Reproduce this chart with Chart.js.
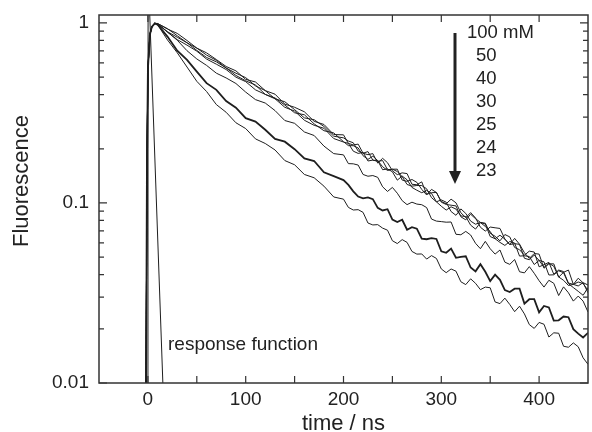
<!DOCTYPE html>
<html lang="en">
<head>
<meta charset="UTF-8">
<title>Fluorescence decay</title>
<script src="https://cdn.jsdelivr.net/npm/chart.js@4.4.1/dist/chart.umd.min.js"></script>
<style>
  html, body { margin: 0; padding: 0; background: #fff; }
</style>
</head>
<body>
<canvas id="decayChart" width="592" height="432"></canvas>
<script>
// time axis (ns), shared by all decay curves
const times = [-4, -2, -1, 0, 2, 4, 7,
  10, 20, 30, 40, 50, 60, 70, 80, 90, 100, 110, 120, 130, 140, 150, 160, 170, 180, 190, 200,
  205, 210, 215, 220, 225, 230, 235, 240, 245, 250, 255, 260, 265, 270, 275, 280, 285, 290, 295, 300,
  305, 310, 315, 320, 325, 330, 335, 340, 345, 350, 355, 360, 365, 370, 375, 380, 385, 390, 395, 400,
  405, 410, 415, 420, 425, 430, 435, 440, 445, 450];

const concLabels = ['100 mM', '50', '40', '30', '25', '24', '23'];

const f100 = [0.004, 0.006, 0.15, 0.55, 0.86, 0.95, 0.995,
  0.993, 0.925, 0.875, 0.799, 0.725, 0.682, 0.626, 0.573, 0.542, 0.486, 0.470, 0.421, 0.402, 0.354,
  0.340, 0.321, 0.284, 0.273, 0.240, 0.239,
  0.2143, 0.210, 0.2123, 0.189, 0.1854, 0.188, 0.1666, 0.177, 0.1674, 0.151, 0.1437, 0.147, 0.1456, 0.127,
  0.1263, 0.131, 0.1118, 0.114, 0.1144, 0.102, 0.0990, 0.105, 0.1002, 0.0882, 0.0830, 0.0884, 0.0826, 0.0733,
  0.0698, 0.0735, 0.0728, 0.0722, 0.0630, 0.0587, 0.0636, 0.0590, 0.0529, 0.0492, 0.0524, 0.0520, 0.0434, 0.0459,
  0.0459, 0.0387, 0.0412, 0.0424, 0.0353, 0.0346, 0.0361, 0.0350];
const f50 = [0.004, 0.006, 0.15, 0.55, 0.86, 0.95, 0.995,
  0.991, 0.930, 0.849, 0.776, 0.725, 0.663, 0.620, 0.562, 0.526, 0.497, 0.447, 0.421, 0.379, 0.365,
  0.330, 0.297, 0.290, 0.266, 0.235, 0.230,
  0.2209, 0.216, 0.1942, 0.189, 0.1929, 0.173, 0.1703, 0.172, 0.1530, 0.154, 0.1541, 0.134, 0.1319, 0.135,
  0.1302, 0.119, 0.1108, 0.119, 0.1144, 0.101, 0.0981, 0.0972, 0.0963, 0.0838, 0.0806, 0.0866, 0.0818, 0.0780,
  0.0772, 0.0679, 0.0653, 0.0616, 0.0668, 0.0648, 0.0566, 0.0550, 0.0513, 0.0540, 0.0534, 0.0442, 0.0454, 0.0468,
  0.0402, 0.0424, 0.0416, 0.0359, 0.0353, 0.0382, 0.0360, 0.0317];
const f40 = [0.004, 0.006, 0.15, 0.55, 0.86, 0.95, 0.995,
  0.987, 0.894, 0.833, 0.776, 0.704, 0.643, 0.608, 0.562, 0.511, 0.477, 0.452, 0.401, 0.383, 0.350,
  0.317, 0.309, 0.275, 0.252, 0.245, 0.219,
  0.2082, 0.208, 0.2021, 0.183, 0.1746, 0.182, 0.1720, 0.159, 0.1515, 0.154, 0.1496, 0.140, 0.1267, 0.124,
  0.1250, 0.125, 0.1199, 0.107, 0.1015, 0.104, 0.1010, 0.0896, 0.0854, 0.0927, 0.0875, 0.0793, 0.0762, 0.0779,
  0.0764, 0.0651, 0.0633, 0.0662, 0.0630, 0.0588, 0.0594, 0.0589, 0.0493, 0.0484, 0.0513, 0.0480, 0.0439, 0.0463,
  0.0445, 0.0388, 0.0372, 0.0348, 0.0353, 0.0364, 0.0357, 0.0327];
const f30 = [0.004, 0.006, 0.15, 0.55, 0.86, 0.95, 0.995,
  0.985, 0.890, 0.808, 0.753, 0.697, 0.630, 0.590, 0.551, 0.500, 0.472, 0.425, 0.401, 0.379, 0.340,
  0.324, 0.288, 0.270, 0.260, 0.228, 0.218,
  0.2143, 0.194, 0.1885, 0.191, 0.1711, 0.173, 0.1718, 0.153, 0.1546, 0.149, 0.1339, 0.141, 0.1346, 0.122,
  0.1177, 0.114, 0.1175, 0.113, 0.1015, 0.0959, 0.0913, 0.0952, 0.0925, 0.0848, 0.0840, 0.0753, 0.0716, 0.0778,
  0.0741, 0.0693, 0.0633, 0.0604, 0.0581, 0.0611, 0.0599, 0.0507, 0.0509, 0.0504, 0.0455, 0.0480, 0.0471, 0.0398,
  0.0399, 0.0420, 0.0410, 0.0356, 0.0339, 0.0323, 0.0307, 0.0339];
const f25 = [0.004, 0.006, 0.15, 0.55, 0.86, 0.95, 0.995,
  0.989, 0.891, 0.802, 0.701, 0.631, 0.581, 0.526, 0.495, 0.461, 0.413, 0.375, 0.359, 0.326, 0.287,
  0.277, 0.248, 0.237, 0.207, 0.188, 0.185,
  0.1654, 0.165, 0.1624, 0.144, 0.1408, 0.142, 0.1388, 0.123, 0.1159, 0.122, 0.1133, 0.103, 0.0979, 0.101,
  0.0986, 0.0978, 0.0943, 0.0814, 0.0793, 0.0788, 0.0782, 0.0784, 0.0670, 0.0666, 0.0695, 0.0664, 0.0597, 0.0557,
  0.0612, 0.0557, 0.0520, 0.0548, 0.0469, 0.0456, 0.0485, 0.0415, 0.0409, 0.0443, 0.0407, 0.0370, 0.0341, 0.0372,
  0.0358, 0.0306, 0.0342, 0.0317, 0.0285, 0.0304, 0.0285, 0.0248];
const f24 = [0.004, 0.006, 0.15, 0.55, 0.86, 0.95, 0.995,
  0.977, 0.840, 0.701, 0.623, 0.537, 0.463, 0.425, 0.368, 0.338, 0.296, 0.283, 0.255, 0.227, 0.219,
  0.199, 0.177, 0.171, 0.148, 0.141, 0.134,
  0.1261, 0.116, 0.1085, 0.106, 0.1075, 0.105, 0.0939, 0.0909, 0.0923, 0.0809, 0.0784, 0.0807, 0.0710, 0.0733,
  0.0720, 0.0634, 0.0629, 0.0637, 0.0631, 0.0539, 0.0529, 0.0558, 0.0496, 0.0502, 0.0506, 0.0438, 0.0417, 0.0457,
  0.0415, 0.0368, 0.0400, 0.0374, 0.0328, 0.0320, 0.0334, 0.0334, 0.0276, 0.0292, 0.0292, 0.0247, 0.0268, 0.0263,
  0.0222, 0.0223, 0.0234, 0.0232, 0.0199, 0.0188, 0.0179, 0.0190];
const f23 = [0.004, 0.006, 0.15, 0.55, 0.86, 0.95, 0.995,
  0.977, 0.805, 0.683, 0.569, 0.474, 0.416, 0.352, 0.319, 0.279, 0.259, 0.227, 0.214, 0.197, 0.172,
  0.163, 0.144, 0.138, 0.124, 0.108, 0.105,
  0.0945, 0.0914, 0.0918, 0.0887, 0.0774, 0.0755, 0.0758, 0.0725, 0.0706, 0.0617, 0.0595, 0.0626, 0.0604, 0.0538,
  0.0520, 0.0521, 0.0488, 0.0510, 0.0492, 0.0430, 0.0410, 0.0430, 0.0418, 0.0365, 0.0352, 0.0379, 0.0358, 0.0330,
  0.0341, 0.0338, 0.0282, 0.0276, 0.0296, 0.0273, 0.0249, 0.0267, 0.0242, 0.0211, 0.0201, 0.0217, 0.0212, 0.0180,
  0.0190, 0.0189, 0.0160, 0.0158, 0.0167, 0.0159, 0.0138, 0.0127];

// instrument response function
const respTimes = [0, 0.2, 16];
const respValues = [0.001, 2.0, 0.0078];

const xTicks = [0, 100, 200, 300, 400];
const xMinorTicks = [50, 150, 250, 350];
const yTicks = [0.01, 0.1, 1];
const yTickLabels = ['0.01', '0.1', '1'];
const yMinorTicks = [0.02, 0.03, 0.04, 0.05, 0.06, 0.07, 0.08, 0.09, 0.2, 0.3, 0.4, 0.5, 0.6, 0.7, 0.8, 0.9];

const FONT = '"Liberation Sans", Arial, Helvetica, sans-serif';
Chart.defaults.font.family = FONT;
Chart.defaults.color = '#222';

function toPoints(xs, ys) {
  return xs.map((t, i) => ({ x: t, y: ys[i] }));
}

const curves = [f100, f50, f40, f30, f25, f24, f23];
const datasets = curves.map((vals, i) => ({
  label: concLabels[i],
  data: toPoints(times, vals),
  borderColor: '#1e1e1e',
  borderWidth: concLabels[i] === '24' ? 1.8 : 1,
  pointRadius: 0,
  tension: 0,
  fill: false
}));
datasets.push({
  label: 'response function',
  data: toPoints(respTimes, respValues),
  borderColor: '#1e1e1e',
  borderWidth: 1,
  pointRadius: 0,
  tension: 0,
  fill: false
});

// frame with inward ticks, annotations, axis titles
const decorations = {
  id: 'decorations',
  afterDatasetsDraw(chart) {
    const { ctx, chartArea: a, scales: { x, y } } = chart;
    ctx.save();
    ctx.strokeStyle = '#333';
    ctx.lineWidth = 1.5;
    ctx.strokeRect(a.left, a.top, a.right - a.left, a.bottom - a.top);

    ctx.lineWidth = 1.2;
    ctx.beginPath();
    const xt = (v, len) => {
      const p = x.getPixelForValue(v);
      ctx.moveTo(p, a.bottom); ctx.lineTo(p, a.bottom - len);
      ctx.moveTo(p, a.top); ctx.lineTo(p, a.top + len);
    };
    const yt = (v, len) => {
      const p = y.getPixelForValue(v);
      ctx.moveTo(a.left, p); ctx.lineTo(a.left + len, p);
      ctx.moveTo(a.right, p); ctx.lineTo(a.right - len, p);
    };
    xTicks.forEach(v => xt(v, 7));
    xMinorTicks.forEach(v => xt(v, 7));
    yTicks.forEach(v => yt(v, 8));
    yMinorTicks.forEach(v => yt(v, 5));
    ctx.stroke();

    // concentration arrow
    ctx.fillStyle = '#222';
    ctx.strokeStyle = '#222';
    ctx.lineWidth = 3;
    ctx.beginPath();
    ctx.moveTo(455, 33);
    ctx.lineTo(455, 173);
    ctx.stroke();
    ctx.beginPath();
    ctx.moveTo(449, 171);
    ctx.lineTo(461, 171);
    ctx.lineTo(455, 184);
    ctx.closePath();
    ctx.fill();

    ctx.font = '18.5px ' + FONT;
    ctx.textBaseline = 'middle';
    ctx.textAlign = 'left';
    concLabels.forEach((s, i) => {
      ctx.fillText(s, i === 0 ? 467 : 476, 33 + i * 23);
    });
    ctx.font = '19px ' + FONT;
    ctx.fillText('response function', 168, 345);

    // axis titles
    ctx.font = '22px ' + FONT;
    ctx.textAlign = 'center';
    ctx.textBaseline = 'alphabetic';
    ctx.fillText('time / ns', (a.left + a.right) / 2, 430);
    ctx.textBaseline = 'middle';
    ctx.translate(22, 181);
    ctx.rotate(-Math.PI / 2);
    ctx.fillText('Fluorescence', 0, 0);
    ctx.restore();
  }
};

new Chart(document.getElementById('decayChart'), {
  type: 'line',
  data: { datasets },
  options: {
    responsive: false,
    animation: false,
    layout: { padding: { top: 15, right: 4, left: 0, bottom: 0 } },
    plugins: { legend: { display: false }, tooltip: { enabled: false } },
    scales: {
      x: {
        type: 'linear',
        min: -50,
        max: 450,
        grid: { display: false, drawTicks: false },
        border: { display: false },
        afterBuildTicks: s => { s.ticks = xTicks.map(v => ({ value: v })); },
        afterFit: s => { s.height = 49; s.paddingLeft = 0; s.paddingRight = 0; },
        ticks: { font: { size: 19 }, padding: 5, maxRotation: 0, callback: v => String(v) }
      },
      y: {
        type: 'logarithmic',
        min: 0.01,
        max: 1.107,
        grid: { display: false, drawTicks: false },
        border: { display: false },
        afterBuildTicks: s => { s.ticks = yTicks.map(v => ({ value: v })); },
        afterFit: s => { s.width = 99; s.paddingTop = 0; s.paddingBottom = 0; },
        ticks: {
          font: { size: 19 },
          padding: 10,
          callback: v => { const i = yTicks.indexOf(v); return i >= 0 ? yTickLabels[i] : ''; }
        }
      }
    }
  },
  plugins: [decorations]
});
</script>
</body>
</html>
